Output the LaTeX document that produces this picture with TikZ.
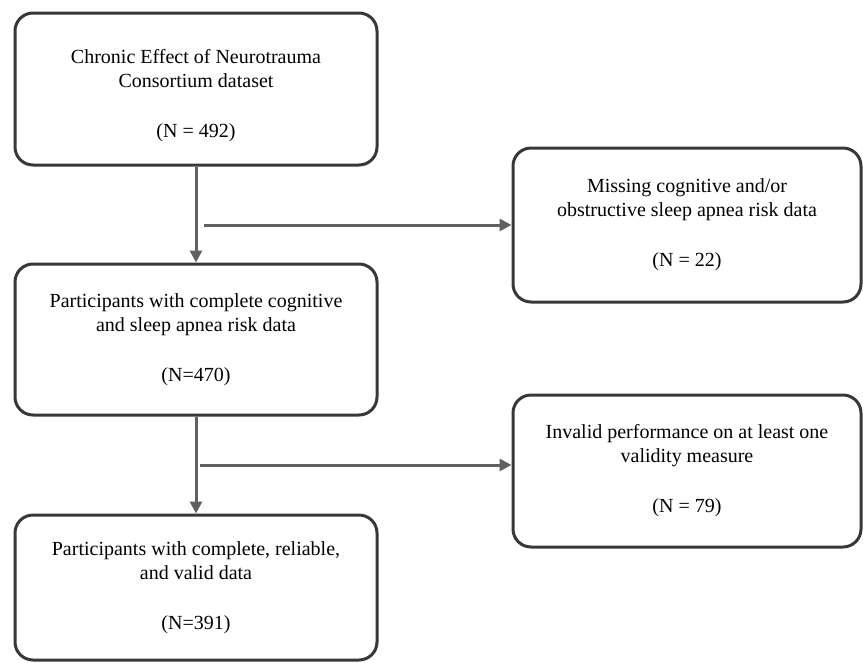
\documentclass[tikz,border=0pt]{standalone}
\usepackage{fontspec}
\setmainfont{Liberation Serif}
\usetikzlibrary{arrows.meta}

\begin{document}
\begin{tikzpicture}[x=1pt,y=-1pt]

      \useasboundingbox (0,0) rectangle (863,662);

      \begin{scope}[every node/.style={draw=black!78,line width=3pt,rounded corners=18pt,align=center,font=\fontsize{20}{24}\selectfont}]
        \node[minimum width=362pt,minimum height=152pt] (1) at (196,89)
          {\rule{0pt}{28pt}Chronic Effect of Neurotrauma\\Consortium dataset\\[26pt](N = 492)};
        \node[minimum width=348pt,minimum height=154pt] (2) at (687,225)
          {Missing cognitive and/or\\obstructive sleep apnea risk data\\[26pt](N = 22)};
        \node[minimum width=362pt,minimum height=151pt] (3) at (196,339.5)
          {Participants with complete cognitive\\and sleep apnea risk data\\[26pt](N=470)};
        \node[minimum width=348pt,minimum height=152pt] (4) at (687,471)
          {Invalid performance on at least one\\validity measure\\[26pt](N = 79)};
        \node[minimum width=362pt,minimum height=145pt] (5) at (196,587.5)
          {Participants with complete, reliable,\\and valid data\\[26pt](N=391)};
      \end{scope}

      \coordinate (a) at (204,225);
      \coordinate (b) at (200,465);

      \begin{scope}[every edge/.style={draw=black!62,line width=3pt,-{Triangle[length=12pt,width=12pt]}}]
        \path (1) edge (3);
        \path (3) edge (5);
        \path (a) edge (a -| 2.west);
        \path (b) edge (b -| 4.west);
      \end{scope}

    \end{tikzpicture}
\end{document}
